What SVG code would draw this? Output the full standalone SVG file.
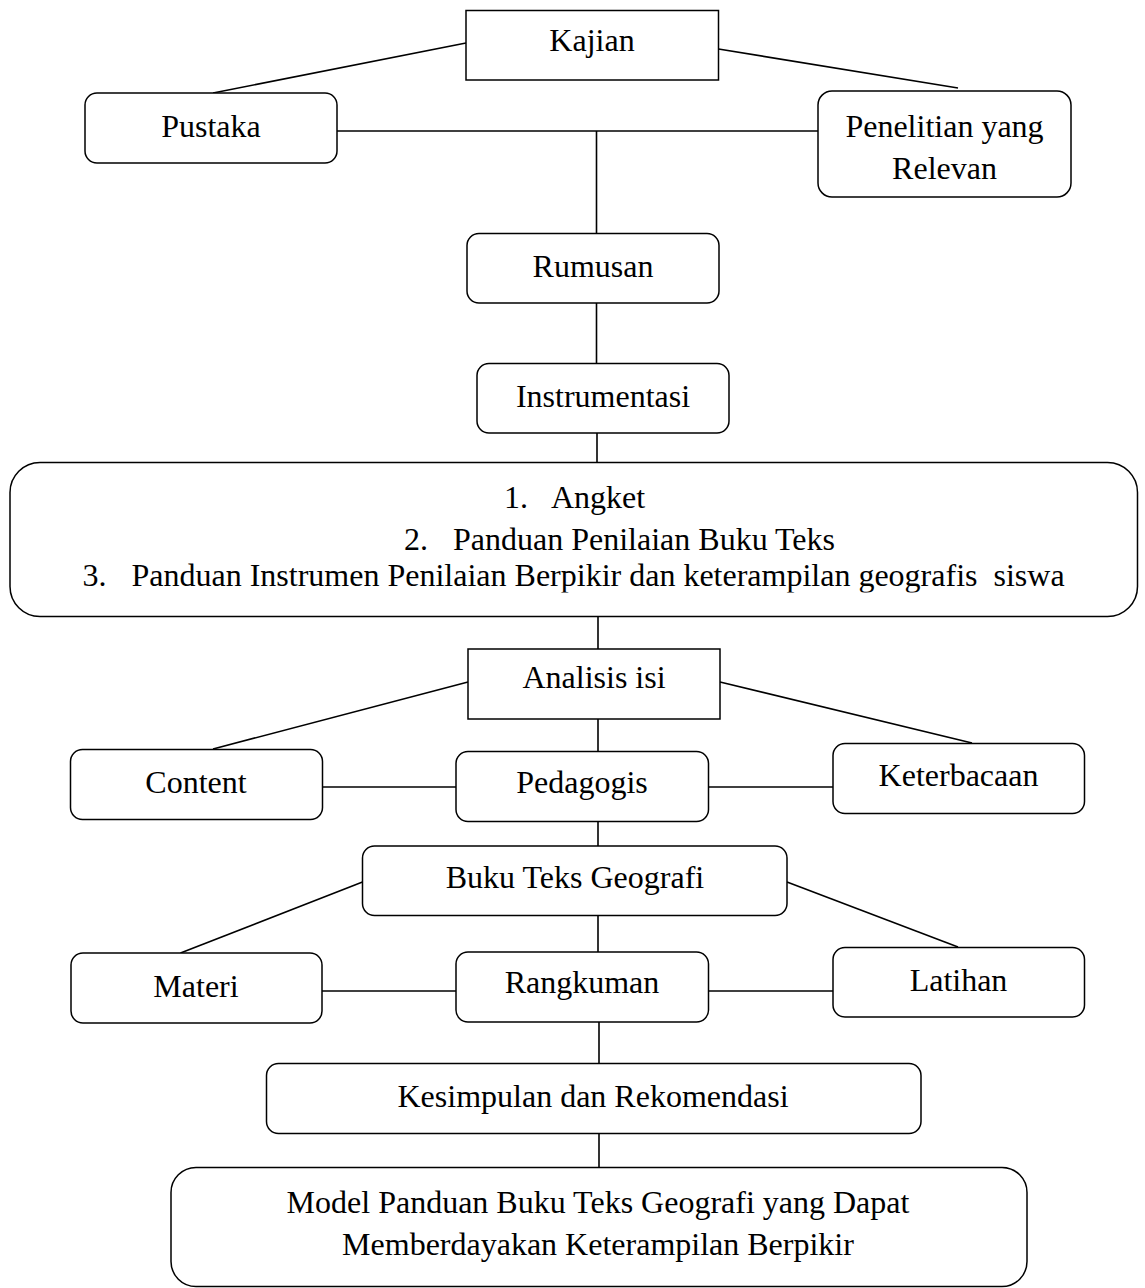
<svg xmlns="http://www.w3.org/2000/svg" width="1145" height="1288" viewBox="0 0 1145 1288">
<style>
.box{fill:#fff;stroke:#000;stroke-width:1.5}
.t{font-family:"Liberation Serif","Times New Roman",serif;font-size:32px;fill:#000;text-anchor:middle}
.tl{font-family:"Liberation Serif","Times New Roman",serif;font-size:32px;fill:#000}
.c line{stroke:#000;stroke-width:1.6}
</style>
<defs>
<clipPath id="listclip"><rect x="10" y="463" width="1128" height="129.5"/></clipPath>
</defs>
<rect width="1145" height="1288" fill="#fff"/>
<g class="c" id="connectors">
<line x1="213" y1="93" x2="466" y2="43"/>
<line x1="718.5" y1="49" x2="958" y2="88"/>
<line x1="337" y1="131" x2="818" y2="131"/>
<line x1="596.5" y1="131" x2="596.5" y2="233"/>
<line x1="596.5" y1="303" x2="596.5" y2="364"/>
<line x1="597" y1="433" x2="597" y2="463"/>
<line x1="598" y1="617" x2="598" y2="649"/>
<line x1="468" y1="682" x2="213" y2="749"/>
<line x1="720" y1="682" x2="972" y2="743"/>
<line x1="598" y1="719" x2="598" y2="751"/>
<line x1="322.5" y1="787" x2="456" y2="787"/>
<line x1="708.5" y1="787" x2="833" y2="787"/>
<line x1="598" y1="821" x2="598" y2="846"/>
<line x1="362.5" y1="882" x2="180.5" y2="953"/>
<line x1="787" y1="882" x2="958" y2="947"/>
<line x1="598" y1="915" x2="598" y2="952"/>
<line x1="322" y1="991" x2="456" y2="991"/>
<line x1="708.5" y1="991" x2="833" y2="991"/>
<line x1="599" y1="1022" x2="599" y2="1063"/>
<line x1="599" y1="1133" x2="599" y2="1167"/>
</g>
<g id="kajian"><rect class="box" x="466" y="10.5" width="252.5" height="69.5"/><text class="t" x="592" y="51">Kajian</text></g>
<g id="pustaka"><rect class="box" x="85" y="93" width="252" height="70" rx="12"/><text class="t" x="211" y="137">Pustaka</text></g>
<g id="penelitian"><rect class="box" x="818" y="91" width="253" height="106" rx="14"/><text class="t" x="944.5" y="137">Penelitian yang</text><text class="t" x="944.5" y="179">Relevan</text></g>
<g id="rumusan"><rect class="box" x="467" y="233.5" width="252" height="69.5" rx="12"/><text class="t" x="593" y="277">Rumusan</text></g>
<g id="instrumentasi"><rect class="box" x="477" y="363.5" width="252" height="69.5" rx="12"/><text class="t" x="603" y="407">Instrumentasi</text></g>
<g id="list"><rect class="box" x="10" y="462.5" width="1127.5" height="154" rx="30"/>
<g clip-path="url(#listclip)">
<text class="tl" x="504" y="508">1.</text><text class="tl" x="551" y="508">Angket</text>
<text class="tl" x="404" y="550">2.</text><text class="tl" x="453" y="550">Panduan Penilaian Buku Teks</text>
<text class="tl" x="82.5" y="586">3.</text><text class="tl" x="131.5" y="586" xml:space="preserve">Panduan Instrumen Penilaian Berpikir dan keterampilan geografis  siswa</text>
</g></g>
<g id="analisis"><rect class="box" x="468" y="649" width="252" height="70"/><text class="t" x="594" y="688">Analisis isi</text></g>
<g id="content"><rect class="box" x="70.5" y="749.5" width="252" height="70" rx="12"/><text class="t" x="196" y="793">Content</text></g>
<g id="pedagogis"><rect class="box" x="456" y="751.5" width="252.5" height="70" rx="12"/><text class="t" x="582" y="793">Pedagogis</text></g>
<g id="keterbacaan"><rect class="box" x="833" y="743.5" width="251.5" height="70" rx="12"/><text class="t" x="958.5" y="786">Keterbacaan</text></g>
<g id="bukuteks"><rect class="box" x="362.5" y="846" width="424.5" height="69.5" rx="12"/><text class="t" x="575" y="888">Buku Teks Geografi</text></g>
<g id="materi"><rect class="box" x="71" y="953" width="251" height="70" rx="12"/><text class="t" x="196" y="997">Materi</text></g>
<g id="rangkuman"><rect class="box" x="456" y="952" width="252.5" height="70" rx="12"/><text class="t" x="582" y="993">Rangkuman</text></g>
<g id="latihan"><rect class="box" x="833" y="947.5" width="251.5" height="69.5" rx="12"/><text class="t" x="958.5" y="991">Latihan</text></g>
<g id="kesimpulan"><rect class="box" x="266.5" y="1063.5" width="654.5" height="70" rx="12"/><text class="t" x="593" y="1107">Kesimpulan dan Rekomendasi</text></g>
<g id="model"><rect class="box" x="171" y="1167.5" width="856" height="119" rx="25"/><text class="t" x="598" y="1213">Model Panduan Buku Teks Geografi yang Dapat</text><text class="t" x="598" y="1255">Memberdayakan Keterampilan Berpikir</text></g>
</svg>
